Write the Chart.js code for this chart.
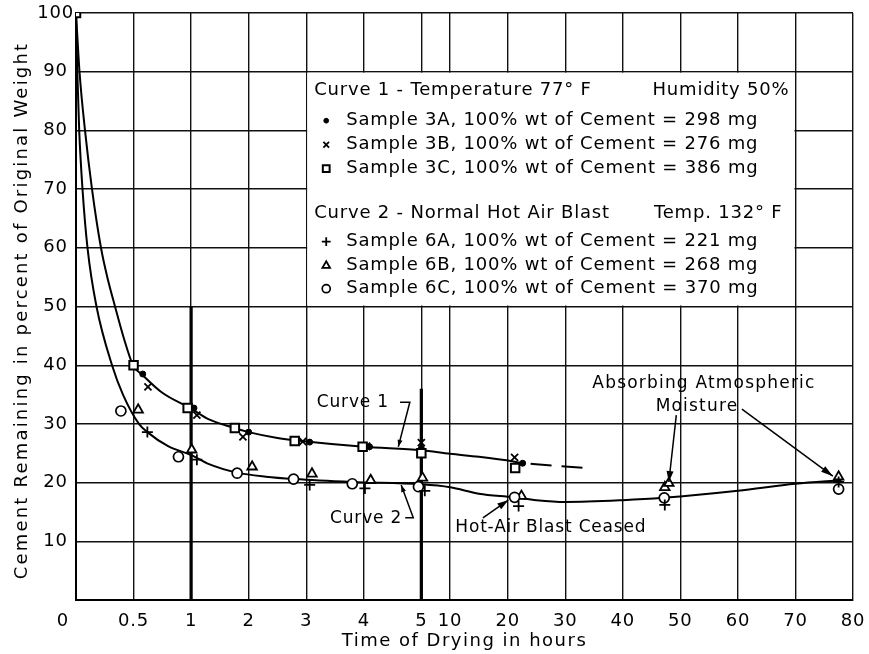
<!DOCTYPE html>
<html>
<head>
<meta charset="utf-8">
<script src="https://cdn.jsdelivr.net/npm/chart.js@4.4.0/dist/chart.umd.min.js"></script>
<style>
html,body{margin:0;padding:0;background:#fff;}
canvas{display:block;}
</style>
</head>
<body>
<canvas id="c" width="869" height="654"></canvas>
<script>
// ---------------- DATA ----------------
const xTickValues = [0, 0.5, 1, 2, 3, 4, 5, 10, 20, 30, 40, 50, 60, 70, 80];
const xTickLabels = ['0    ', '0.5', '1', '2', '3', '4', '5', '10', '20', '30', '40', '50', '60', '70', '80'];
const yTickValues = [0, 10, 20, 30, 40, 50, 60, 70, 80, 90, 100];
const yTickLabels = ['', '10', '20', '30', '40', '50', '60', '70', '80', '90', '100'];
const xTitle = 'Time of Drying in hours';
const yTitle = 'Cement Remaining in percent of Original Weight';

// Curve 1 (drawn smooth curve), hours / percent
const curve1Hours = [0, 0.0304, 0.0782, 0.139, 0.217, 0.278, 0.339, 0.417, 0.495, 0.58, 0.75, 1, 1.3, 1.75, 2, 2.5, 3, 4, 5, 10, 15, 21, 22.6];
const curve1Pct   = [100, 90, 80, 70, 60, 54.5, 50, 44.5, 40, 38.3, 35.3, 32.6, 30.8, 29.3, 28.6, 27.6, 27, 26.1, 25.5, 24.9, 24.4, 23.6, 23.3];
// Curve 1 dashed extension
const curve1ExtHours = [22.6, 28, 33.7];
const curve1ExtPct   = [23.3, 22.9, 22.5];

// Curve 2 (drawn smooth curve)
const curve2Hours = [0, 0.0113, 0.0278, 0.0565, 0.0999, 0.178, 0.313, 0.408, 0.547, 0.62, 0.8, 1, 1.3, 1.8, 2.3, 2.8, 3.8, 5, 10, 15, 21, 25, 30, 40, 47, 60, 70, 78];
const curve2Pct   = [100, 90, 80, 70, 60, 50, 40, 35, 30, 28.6, 26.2, 24.7, 23.2, 21.7, 21, 20.6, 20.1, 19.7, 19.2, 18.1, 17.5, 17, 16.7, 17.0, 17.4, 18.6, 19.8, 20.4];

// Samples (hours / percent)
const s3AHours = [0, 0.58, 1.05, 2.0, 3.06, 4.1, 5.0, 22.6];
const s3APct   = [100, 38.5, 32.7, 28.6, 26.9, 26.1, 25.8, 23.3];
const s3BHours = [0, 0.625, 1.1, 1.9, 2.94, 4.05, 5.0, 21.2];
const s3BPct   = [100, 36.3, 31.5, 27.8, 27.0, 26.2, 26.8, 24.3];
const s3CHours = [0, 0.5, 0.97, 1.76, 2.8, 3.98, 5.0, 21.3];
const s3CPct   = [100, 40, 32.7, 29.3, 27.1, 26.1, 25.0, 22.5];
const s6AHours = [0.62, 1.1, 3.06, 4.02, 5.6, 21.9, 47.3, 77.5];
const s6APct   = [28.6, 23.9, 19.6, 19.0, 18.6, 16.0, 16.2, 20.1];
const s6BHours = [0.54, 1.01, 2.06, 3.1, 4.12, 5.2, 22.4, 47.3, 48.0, 77.5];
const s6BPct   = [32.4, 25.6, 22.7, 21.5, 20.4, 20.8, 17.7, 19.2, 19.9, 21.0];
const s6CHours = [0.39, 0.89, 1.8, 2.78, 3.8, 4.95, 21.2, 47.2, 77.5];
const s6CPct   = [32.2, 24.4, 21.6, 20.6, 19.8, 19.3, 17.5, 17.4, 18.9];

// Heavy vertical reference lines
const heavy1Hours = [1, 1];   const heavy1Pct = [50, 0];
const heavy5Hours = [5, 5];   const heavy5Pct = [36, 0];

// Legend texts
const legendHeader1 = ['Curve 1 - Temperature 77° F', 'Humidity 50%'];
const legendHeader2 = ['Curve 2 - Normal Hot Air Blast', 'Temp. 132° F'];
const legendRows1 = ['Sample 3A, 100% wt of Cement = 298 mg', 'Sample 3B, 100% wt of Cement = 276 mg', 'Sample 3C, 100% wt of Cement = 386 mg'];
const legendRows2 = ['Sample 6A, 100% wt of Cement = 221 mg', 'Sample 6B, 100% wt of Cement = 268 mg', 'Sample 6C, 100% wt of Cement = 370 mg'];

// ---------------- piecewise x axis (0-1 h, 1-5 h, 5-80 h) ----------------
function hoursToUnit(h) { if (h <= 1) return h * 2; if (h <= 5) return 2 + (h - 1); return 6 + (h - 5) / 10; }
function unitToHours(u) { if (u <= 2) return u / 2; if (u <= 6) return u - 1; return 5 + (u - 6) * 10; }
const X_UNITS = hoursToUnit(80);

class PiecewiseScale extends Chart.LinearScale {
  buildTicks() { return xTickValues.map(v => ({ value: v })); }
  getPixelForValue(v) { return this.getPixelForDecimal(hoursToUnit(v) / X_UNITS); }
  getValueForPixel(p) { return unitToHours(this.getDecimalForPixel(p) * X_UNITS); }
}
PiecewiseScale.id = 'piecewise';
Chart.register(PiecewiseScale);

const pts = (xs, ys) => xs.map((x, i) => ({ x: x, y: ys[i] }));

const lineBase = { borderColor: '#000', borderWidth: 2, pointRadius: 0, showLine: true, fill: false, cubicInterpolationMode: 'monotone', order: 2 };
const markerBase = { showLine: false, borderColor: '#000', order: 0 };

const styles = {
  s3A: { pointStyle: 'circle', pointRadius: 3, backgroundColor: '#000', pointBorderWidth: 1 },
  s3B: { pointStyle: 'crossRot', pointRadius: 5, backgroundColor: '#000', pointBorderWidth: 1.8 },
  s3C: { pointStyle: 'rect', pointRadius: 6, backgroundColor: '#fff', pointBorderWidth: 2 },
  s6A: { pointStyle: 'cross', pointRadius: 5.5, backgroundColor: '#000', pointBorderWidth: 1.8 },
  s6B: { pointStyle: 'triangle', pointRadius: 5.5, backgroundColor: '#fff', pointBorderWidth: 1.8 },
  s6C: { pointStyle: 'circle', pointRadius: 5, backgroundColor: '#fff', pointBorderWidth: 1.7 }
};

const FONT = '"DejaVu Sans", sans-serif';
const SPACING = '0.8px';

// ---------------- plugins ----------------
function arrowHead(ctx, x1, y1, x2, y2, len, w) {
  const a = Math.atan2(y2 - y1, x2 - x1);
  const c = Math.cos(a), s = Math.sin(a);
  ctx.beginPath();
  ctx.moveTo(x2, y2);
  ctx.lineTo(x2 - len * c + w * s, y2 - len * s - w * c);
  ctx.lineTo(x2 - len * c - w * s, y2 - len * s + w * c);
  ctx.closePath();
  ctx.fill();
}

const spacingPlugin = {
  id: 'spacing',
  beforeLayout(chart) { chart.ctx.letterSpacing = SPACING; },
  beforeDraw(chart) { chart.ctx.letterSpacing = SPACING; }
};

const decorPlugin = {
  id: 'decor',
  beforeDatasetsDraw(chart) {
    const { ctx, scales: { x, y } } = chart;
    const l = x.getPixelForValue(3), r = x.getPixelForValue(70);
    const t = y.getPixelForValue(90), b = y.getPixelForValue(50);
    ctx.save();
    ctx.fillStyle = '#fff';
    ctx.fillRect(l + 1, t + 1, r - l - 2, b - t - 2);
    ctx.restore();
  },
  afterDraw(chart) {
    const { ctx, chartArea, scales: { x, y } } = chart;
    const P = (h, p) => [x.getPixelForValue(h), y.getPixelForValue(p)];
    const l = x.getPixelForValue(3), r = x.getPixelForValue(70);
    const t = y.getPixelForValue(90);
    ctx.save();
    ctx.fillStyle = '#000';
    ctx.strokeStyle = '#000';
    ctx.textBaseline = 'middle';

    // axis titles
    ctx.font = '18px ' + FONT;
    ctx.textAlign = 'center';
    ctx.letterSpacing = '1.5px';
    ctx.fillText(xTitle, (chartArea.left + chartArea.right) / 2, chartArea.bottom + 41);
    ctx.save();
    ctx.letterSpacing = '2.2px';
    ctx.translate(22, (chartArea.top + chartArea.bottom) / 2 + 4);
    ctx.rotate(-Math.PI / 2);
    ctx.fillText(yTitle, 0, 0);
    ctx.restore();

    ctx.letterSpacing = SPACING;
    // legend headers
    ctx.textAlign = 'left';
    ctx.fillText(legendHeader1[0], l + 8, t + 19);
    ctx.fillText(legendHeader2[0], l + 8, t + 142);
    ctx.textAlign = 'right';
    ctx.fillText(legendHeader1[1], r - 6, t + 19);
    ctx.fillText(legendHeader2[1], r - 13, t + 142);
    // legend rows
    const rowsY1 = [t + 49, t + 73, t + 97];
    const rowsY2 = [t + 170, t + 194, t + 217];
    const st1 = [styles.s3A, styles.s3B, styles.s3C];
    const st2 = [styles.s6A, styles.s6B, styles.s6C];
    const drawRow = (txt, st, yy) => {
      ctx.save();
      ctx.fillStyle = st.backgroundColor;
      ctx.strokeStyle = '#000';
      ctx.lineWidth = st.pointBorderWidth;
      Chart.helpers.drawPoint(ctx, { pointStyle: st.pointStyle, radius: st.pointRadius * 0.8, borderWidth: st.pointBorderWidth, rotation: 0 }, l + 20, yy);
      ctx.restore();
      ctx.textAlign = 'left';
      ctx.fillText(txt, l + 40, yy);
    };
    legendRows1.forEach((txt, i) => drawRow(txt, st1[i], rowsY1[i]));
    legendRows2.forEach((txt, i) => drawRow(txt, st2[i], rowsY2[i]));

    // annotations
    ctx.font = '17px ' + FONT;
    ctx.textAlign = 'center';
    ctx.lineWidth = 1.5;
    let p;
    p = P(3.81, 33.6); ctx.fillText('Curve 1', p[0], p[1]);
    p = P(4.04, 13.8); ctx.fillText('Curve 2', p[0], p[1]);
    p = P(27.5, 12.4); ctx.fillText('Hot-Air Blast Ceased', p[0], p[1]);
    ctx.letterSpacing = '1.2px';
    p = P(54.1, 36.8); ctx.fillText('Absorbing Atmospheric', p[0], p[1]);
    p = P(52.9, 32.9); ctx.fillText('Moisture', p[0], p[1]);

    const leader = (ptsList, head) => {
      const q = ptsList.map(a => P(a[0], a[1]));
      ctx.beginPath();
      ctx.moveTo(q[0][0], q[0][1]);
      for (let i = 1; i < q.length; i++) ctx.lineTo(q[i][0], q[i][1]);
      ctx.stroke();
      const n = q.length;
      arrowHead(ctx, q[n - 2][0], q[n - 2][1], q[n - 1][0], q[n - 1][1], head[0], head[1]);
    };
    leader([[4.63, 33.7], [4.80, 33.7], [4.60, 26.1]], [7, 2.5]);
    leader([[4.72, 14.0], [4.86, 14.0], [4.65, 19.6]], [7, 2.5]);
    leader([[15.7, 14.0], [20.1, 17.0]], [11, 3.5]);
    leader([[49.3, 31.5], [48.0, 20.1]], [11, 3.5]);
    leader([[60.7, 32.5], [76.5, 21.1]], [12, 3.5]);
    ctx.restore();
  }
};

// ---------------- chart ----------------
new Chart(document.getElementById('c'), {
  type: 'scatter',
  data: {
    datasets: [
      Object.assign({}, markerBase, styles.s3C, { label: '3C', data: pts(s3CHours, s3CPct) }),
      Object.assign({}, markerBase, styles.s3B, { label: '3B', data: pts(s3BHours, s3BPct) }),
      Object.assign({}, markerBase, styles.s3A, { label: '3A', data: pts(s3AHours, s3APct) }),
      Object.assign({}, markerBase, styles.s6A, { label: '6A', data: pts(s6AHours, s6APct) }),
      Object.assign({}, markerBase, styles.s6C, { label: '6C', data: pts(s6CHours, s6CPct) }),
      Object.assign({}, markerBase, styles.s6B, { label: '6B', data: pts(s6BHours, s6BPct) }),
      Object.assign({}, lineBase, { label: 'Curve 1', data: pts(curve1Hours, curve1Pct) }),
      Object.assign({}, lineBase, { label: 'Curve 1 ext', data: pts(curve1ExtHours, curve1ExtPct), borderDash: [21, 10], borderDashOffset: 23 }),
      Object.assign({}, lineBase, { label: 'Curve 2', data: pts(curve2Hours, curve2Pct) }),
      Object.assign({}, lineBase, { label: 'heavy 1', data: pts(heavy1Hours, heavy1Pct), borderWidth: 3.2, cubicInterpolationMode: 'default', tension: 0, order: 3 }),
      Object.assign({}, lineBase, { label: 'heavy 5', data: pts(heavy5Hours, heavy5Pct), borderWidth: 3.2, cubicInterpolationMode: 'default', tension: 0, order: 3 })
    ]
  },
  options: {
    responsive: false,
    animation: false,
    devicePixelRatio: 1,
    layout: { padding: { left: 0, right: 16, top: 13, bottom: 0 } },
    plugins: { legend: { display: false }, tooltip: { enabled: false } },
    scales: {
      x: {
        type: 'piecewise',
        min: 0, max: 80,
        grid: { color: '#111', lineWidth: 1.4, drawTicks: false },
        border: { color: '#000', width: 2 },
        ticks: {
          autoSkip: false, maxRotation: 0, padding: 11, color: '#000',
          font: { family: FONT, size: 18 },
          callback: (v, i) => xTickLabels[i]
        },
        title: { display: false },
        afterFit: s => { s.height = 54; s.paddingLeft = 0; s.paddingRight = 0; }
      },
      y: {
        min: 0, max: 100,
        afterBuildTicks: s => { s.ticks = yTickValues.map(v => ({ value: v })); },
        grid: { color: '#111', lineWidth: 1.4, drawTicks: false },
        border: { color: '#000', width: 2 },
        ticks: {
          padding: 2, crossAlign: 'center', color: '#000',
          font: { family: FONT, size: 18 },
          callback: (v, i) => yTickLabels[i]
        },
        title: { display: false },
        afterFit: s => { s.width = 76; }
      }
    }
  },
  plugins: [spacingPlugin, decorPlugin]
});
</script>
</body>
</html>
